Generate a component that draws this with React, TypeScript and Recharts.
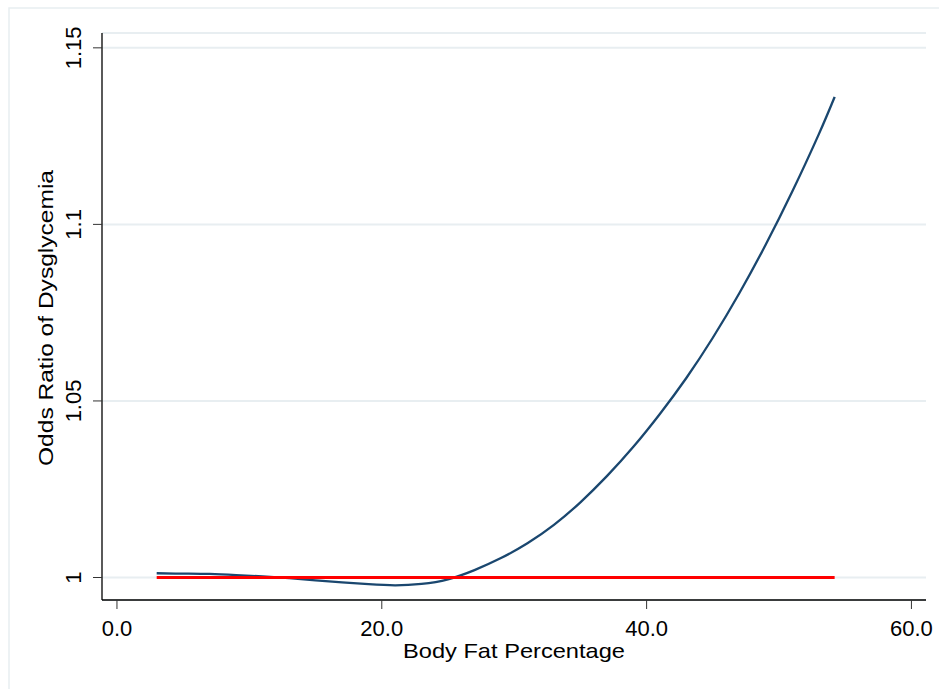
import React from "react";
import { LineChart, Line, XAxis, YAxis, CartesianGrid } from "recharts";

const bodyFat = [3, 5, 7, 9, 11, 13, 15, 17, 19, 21, 23, 25, 27, 29, 31, 33, 35, 37, 39, 41, 43, 45, 47, 49, 51, 53, 54.2];
const oddsRatio = [1.0012, 1.0011, 1.001, 1.0007, 1.0003, 0.9998, 0.9992, 0.9986, 0.9981, 0.9978, 0.9982, 0.9995, 1.0021, 1.0055, 1.0097, 1.0149, 1.0213, 1.0287, 1.037, 1.0463, 1.0565, 1.0679, 1.0805, 1.0943, 1.1093, 1.1255, 1.1361];
const refX = [3, 54.2];
const refY = [1, 1];
const xTicks = [0, 20, 40, 60];
const yTicks = [1, 1.05, 1.1, 1.15];
const yTickLabels = ["1", "1.05", "1.1", "1.15"];
const xTitle = "Body Fat Percentage";
const yTitle = "Odds Ratio of Dysglycemia";

const curveData = bodyFat.map((x, i) => ({ x, y: oddsRatio[i] }));
const refData = refX.map((x, i) => ({ x, y: refY[i] }));

const FONT = "'Liberation Sans', Arial, sans-serif";
const W = 939;
const H = 689;

const XTick = (props: any) => {
  const { x, y, payload } = props;
  return (
    <text x={x} y={y + 25} textAnchor="middle" fontFamily={FONT} fontSize={22} fill="#000">
      {Number(payload.value).toFixed(1)}
    </text>
  );
};

const YTick = (props: any) => {
  const { x, y, payload } = props;
  const idx = yTicks.indexOf(payload.value);
  const label = idx >= 0 ? yTickLabels[idx] : String(payload.value);
  const bx = x - 10;
  return (
    <text
      x={bx}
      y={y}
      transform={`rotate(-90 ${bx} ${y})`}
      textAnchor="middle"
      fontFamily={FONT}
      fontSize={22}
      fill="#000"
    >
      {label}
    </text>
  );
};

export default function App() {
  return (
    <div style={{ position: "absolute", left: 0, top: 0, width: W, height: H, background: "#fff" }}>
      <LineChart
        width={W}
        height={H}
        margin={{ top: 33, right: 13, bottom: 0, left: 0 }}
        style={{ position: "absolute", left: 0, top: 0 }}
      >
        <CartesianGrid vertical={false} stroke="#e8eef1" strokeWidth={2} />
        <XAxis
          dataKey="x"
          type="number"
          domain={[-1.13, 61.1]}
          ticks={xTicks}
          allowDataOverflow
          tickSize={9}
          tickLine={{ stroke: "#333", strokeWidth: 1 }}
          axisLine={{ stroke: "#000", strokeWidth: 1.3 }}
          tick={<XTick />}
          height={89}
        />
        <YAxis
          dataKey="y"
          type="number"
          domain={[0.99363, 1.1542]}
          ticks={yTicks}
          allowDataOverflow
          tickSize={9}
          tickLine={{ stroke: "#333", strokeWidth: 1 }}
          axisLine={{ stroke: "#000", strokeWidth: 1.3 }}
          tick={<YTick />}
          width={102}
        />
        <Line
          data={curveData}
          dataKey="y"
          type="natural"
          stroke="#1a476f"
          strokeWidth={2.3}
          dot={false}
          activeDot={false}
          isAnimationActive={false}
        />
        <Line
          data={refData}
          dataKey="y"
          type="linear"
          stroke="#ff0000"
          strokeWidth={3.2}
          dot={false}
          activeDot={false}
          isAnimationActive={false}
        />
      </LineChart>
      <svg
        width={W}
        height={H}
        style={{ position: "absolute", left: 0, top: 0, pointerEvents: "none" }}
      >
        <rect x={9} y={8} width={W} height={H} fill="none" stroke="#e8eef1" strokeWidth={1.5} />
        <text x={514} y={658} textAnchor="middle" fontFamily={FONT} fontSize={21} textLength={222} lengthAdjust="spacingAndGlyphs" fill="#000">
          {xTitle}
        </text>
        <text
          x={53}
          y={318}
          transform="rotate(-90 53 318)"
          textAnchor="middle"
          fontFamily={FONT}
          fontSize={21}
          textLength={296}
          lengthAdjust="spacingAndGlyphs"
          fill="#000"
        >
          {yTitle}
        </text>
      </svg>
    </div>
  );
}
